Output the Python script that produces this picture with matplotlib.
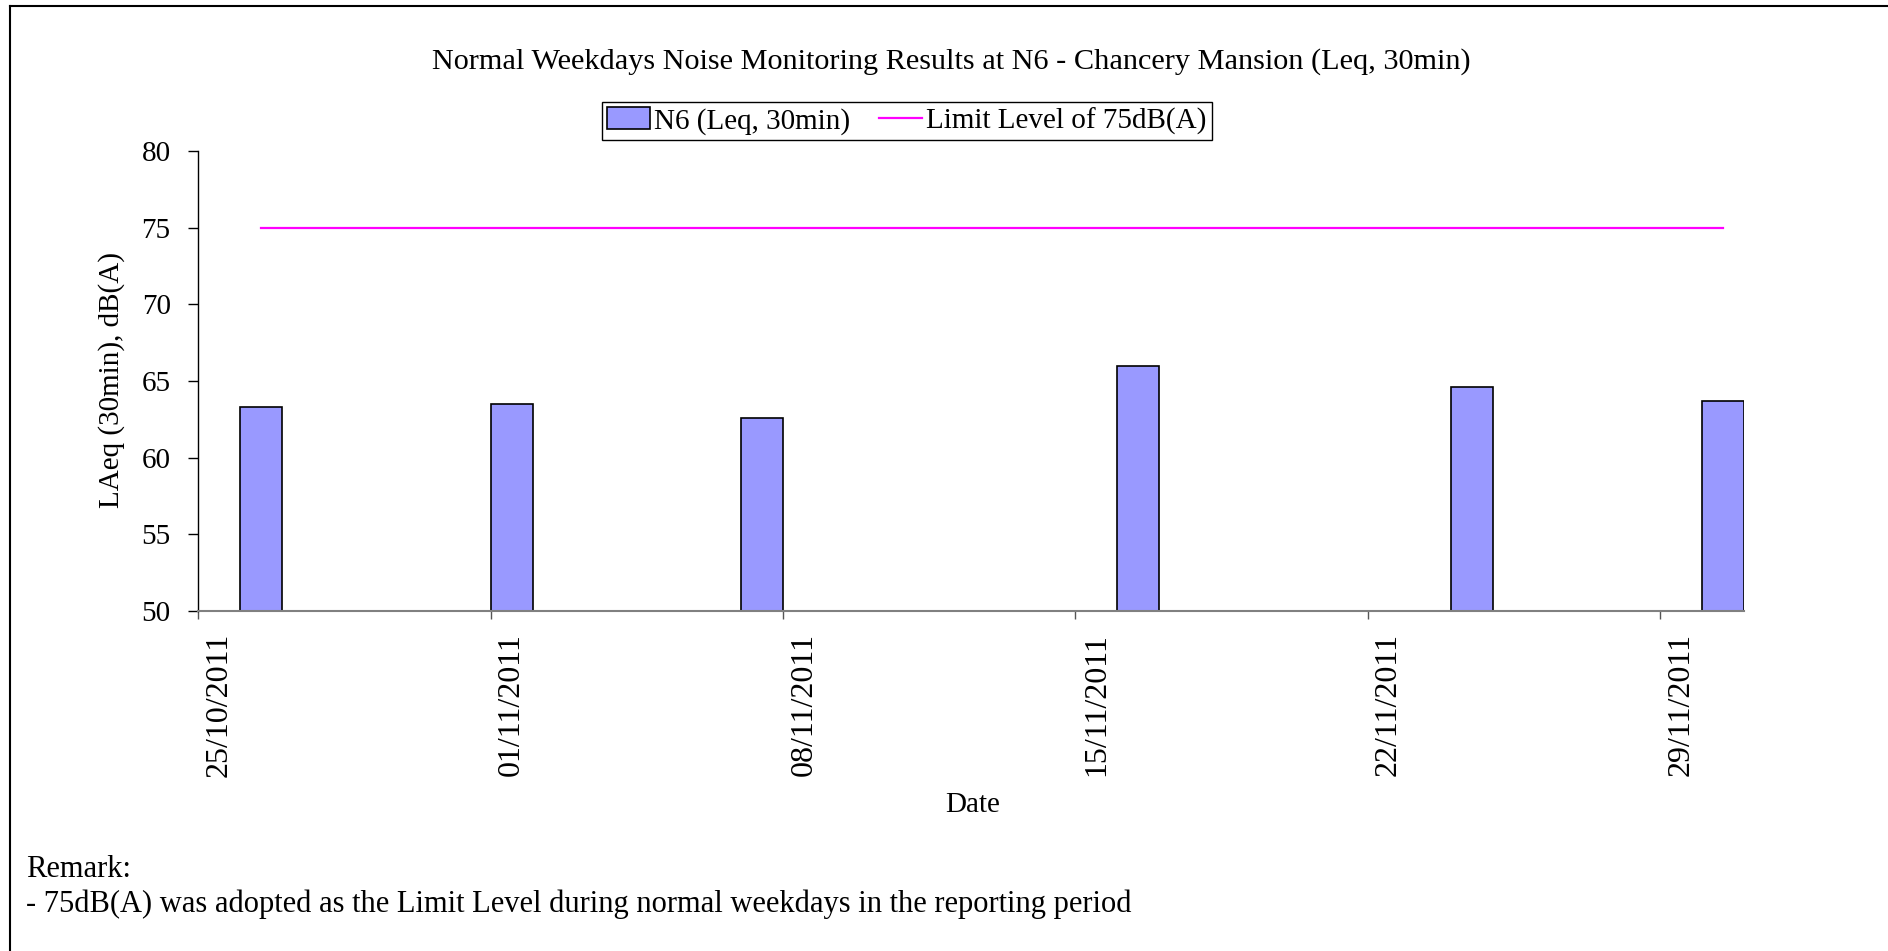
import matplotlib.pyplot as plt
import matplotlib.dates as mdates
from matplotlib.lines import Line2D
from matplotlib.patches import Patch
import pandas as pd
import numpy as np

# data
dates = ['2011-10-26', '2011-11-01', '2011-11-07', '2011-11-16', '2011-11-24', '2011-11-30']
leq = [63.3, 63.5, 62.6, 66.0, 64.6, 63.7]
limit_dates = ['2011-10-26', '2011-11-30']
limit_level = [75, 75]
tick_dates = ['2011-10-25', '2011-11-01', '2011-11-08', '2011-11-15', '2011-11-22', '2011-11-29']
tick_labels = ['25/10/2011', '01/11/2011', '08/11/2011', '15/11/2011', '22/11/2011', '29/11/2011']
x_range = ['2011-10-25', '2011-12-01']
y_ticks = [50, 55, 60, 65, 70, 75, 80]

plt.rcParams['font.family'] = ['Liberation Serif', 'DejaVu Serif']

x_bar = mdates.date2num(pd.to_datetime(dates))
x_lim = mdates.date2num(pd.to_datetime(limit_dates))
x_tick = mdates.date2num(pd.to_datetime(tick_dates))
x_min, x_max = mdates.date2num(pd.to_datetime(x_range))

fig = plt.figure(figsize=(18.88, 9.51), dpi=100)
ax = fig.add_axes([0.1051, 0.3575, 0.8184, 0.4837])

# each day is one slot, bar fills the slot of its date
ax.bar(x_bar, leq, width=1.0, align='edge', color='#9999FF', edgecolor='black', linewidth=1.2, zorder=2)
# limit line runs between slot centres
ax.plot(x_lim + 0.5, limit_level, color='#FF00FF', linewidth=1.6, zorder=3)

ax.set_xlim(x_min, x_max)
ax.set_ylim(50, 80)
ax.set_yticks(y_ticks)
ax.tick_params(axis='y', labelsize=21, length=7, width=1, pad=13, direction='out')

# major ticks mark slot boundaries, labels sit in the slot centre
ax.set_xticks(x_tick)
ax.set_xticklabels([])
ax.set_xticks(x_tick + 0.5, minor=True)
ax.set_xticklabels(tick_labels, minor=True, rotation=90, fontsize=23, va='top')
ax.tick_params(axis='x', which='major', length=6, width=1, color='#555555', direction='out')
ax.tick_params(axis='x', which='minor', length=0, pad=16)

ax.spines['top'].set_visible(False)
ax.spines['right'].set_visible(False)
ax.spines['bottom'].set_color('#808080')
ax.spines['bottom'].set_linewidth(1.5)
ax.spines['left'].set_linewidth(1.0)

fig.text(0.5037, 0.935, 'Normal Weekdays Noise Monitoring Results at N6 - Chancery Mansion (Leq, 30min)',
         ha='center', va='center', fontsize=21.8)
fig.text(0.059, 0.60, 'LAeq (30min), dB(A)', rotation=90, ha='center', va='center', fontsize=21)
fig.text(0.515, 0.153, 'Date', ha='center', va='center', fontsize=21)

handles = [Patch(facecolor='#9999FF', edgecolor='black', linewidth=1.2),
           Line2D([0], [0], color='#FF00FF', linewidth=1.6)]
leg = fig.legend(handles, ['N6 (Leq, 30min)', 'Limit Level of 75dB(A)'], ncol=2,
                 loc='center', bbox_to_anchor=(0.4804, 0.8728), fontsize=21,
                 fancybox=False, edgecolor='black', framealpha=1,
                 handlelength=1.45, handleheight=0.8, handletextpad=0.15,
                 columnspacing=1.0, borderpad=0.18, borderaxespad=0)
leg.get_frame().set_linewidth(1.0)

fig.text(0.014, 0.0862, 'Remark:', ha='left', va='center', fontsize=22)
fig.text(0.014, 0.0494, '- 75dB(A) was adopted as the Limit Level during normal weekdays in the reporting period',
         ha='left', va='center', fontsize=22)

# outer frame (top and left edges visible)
fig.add_artist(Line2D([10 / 1888, 1], [1 - 6 / 951, 1 - 6 / 951], color='black', linewidth=1.5,
                      transform=fig.transFigure))
fig.add_artist(Line2D([10 / 1888, 10 / 1888], [0, 1 - 6 / 951], color='black', linewidth=1.5,
                      transform=fig.transFigure))

plt.savefig('out.png', dpi=100)
plt.close(fig)
